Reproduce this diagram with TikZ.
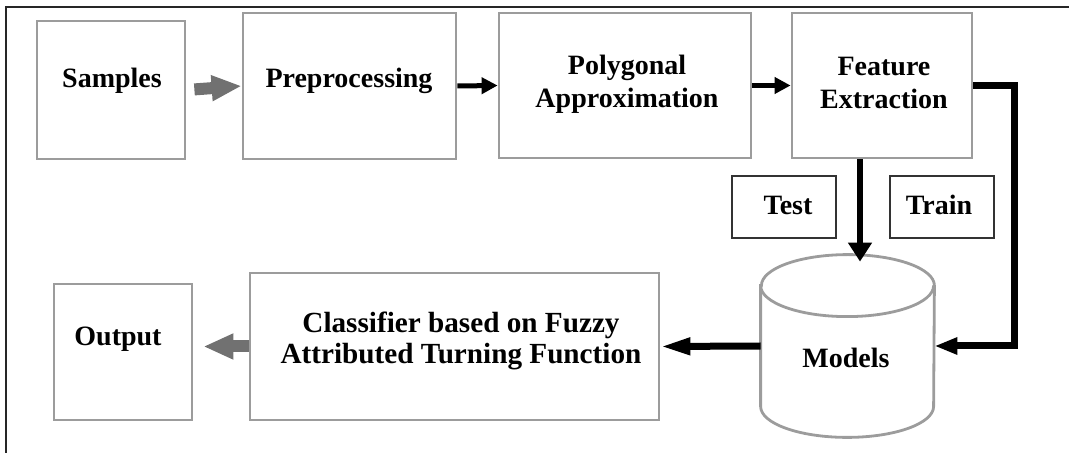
\documentclass[tikz,border=0pt]{standalone}
\usepackage{fontspec}
\setmainfont{Liberation Serif}
\usetikzlibrary{arrows.meta, positioning}
\definecolor{boxgray}{HTML}{9C9C9C}
\definecolor{fatgray}{HTML}{717171}

\begin{document}
\begin{tikzpicture}[x=0.5pt, y=-0.5pt, font=\fontsize{14}{16.5}\selectfont\bfseries,
    box/.style={draw=boxgray, line width=1.4pt, inner sep=0pt},
    tag/.style={draw=black!80, line width=1pt, inner sep=0pt, minimum width=52pt, minimum height=31pt},
    txt/.style={inner sep=0pt, align=center},
    fat/.style={draw=fatgray, line width=6pt, -{Triangle[length=15pt, width=12pt]}},
    thin/.style={line width=2.5pt, -{Triangle[length=8pt, width=8pt]}},
    heavy/.style={line width=3.5pt, -{Triangle[length=11.5pt, width=8pt]}}]

        \useasboundingbox (0,0) rectangle (1069,453);
        \draw[line width=1pt, black!85] (6,453) -- (6,7) -- (1069,7);

        \node (samples) [box, minimum width=74pt, minimum height=69pt] at (111,90) {};
        \node (samplesT) [txt, anchor=base] at (112,88) {Samples};
        \node (prep) [box, minimum width=106.5pt, minimum height=73pt] at (349.5,86) {};
        \node (prepT) [txt, anchor=base] at (349,88) {Preprocessing};
        \node (poly) [box, minimum width=126pt, minimum height=72.5pt] at (625,85.5) {};
        \node (polyT) [txt] at (627,84) {Polygonal\\Approximation};
        \node (feat) [box, minimum width=90pt, minimum height=72.5pt] at (882,85.5) {};
        \node (featT) [txt] at (884,83) {Feature\\Extraction};

        \node (test) [tag] at (784,207) {};
        \node (testT) [txt, anchor=base] at (788,215) {Test};
        \node (train) [tag] at (941.5,207) {};
        \node (trainT) [txt, anchor=base] at (939,215) {Train};

        \node (models) [minimum width=86.5pt, minimum height=91pt, inner sep=0pt] at (847.5,346) {};
        \draw[box, fill=white] ([yshift=-15.5pt]models.north west) -- ([yshift=15.5pt]models.south west)
            arc[start angle=180, end angle=360, x radius=43.25pt, y radius=15.5pt]
            -- ([yshift=-15.5pt]models.north east)
            arc[start angle=0, end angle=180, x radius=43.25pt, y radius=15.5pt] -- cycle;
        \draw[box] ([yshift=-15.5pt]models.north west)
            arc[start angle=180, end angle=360, x radius=43.25pt, y radius=15.5pt];
        \node (modelsT) [txt, anchor=base] at (846,368) {Models};

        \node (class) [box, minimum width=204.5pt, minimum height=73.5pt] at (454.5,346.5) {};
        \node (classT) [txt, font=\fontsize{14.6}{15.5}\selectfont\bfseries] at (461,341)
            {Classifier based on Fuzzy\\Attributed Turning Function};
        \node (out) [box, minimum width=69pt, minimum height=68pt] at (123,352) {};
        \node (outT) [txt, anchor=base] at (118,346) {Output};

        \coordinate (down) at (860,0);
        \coordinate (bend) at (1014,0);

        \draw[fat, shorten <=4pt] (samples.east) -- (prep.west);
        \draw[thin] (prep.east) -- (poly.west);
        \draw[thin] (poly.east) -- (feat.west);
        \draw[line width=3pt, -{Triangle[length=9.5pt, width=11.5pt]}, shorten >=-3.5pt]
            (feat.south -| down) -- (down |- models.north);
        \draw[heavy] (feat.east) -| (bend |- models.east) -- (models.east);
        \draw[line width=3.5pt, -{Triangle[length=15pt, width=8pt]}] (models.west) -- (class.east);
        \draw[fat, shorten >=5pt] (class.west) -- (class.west -| out.east);

        \end{tikzpicture}
\end{document}
